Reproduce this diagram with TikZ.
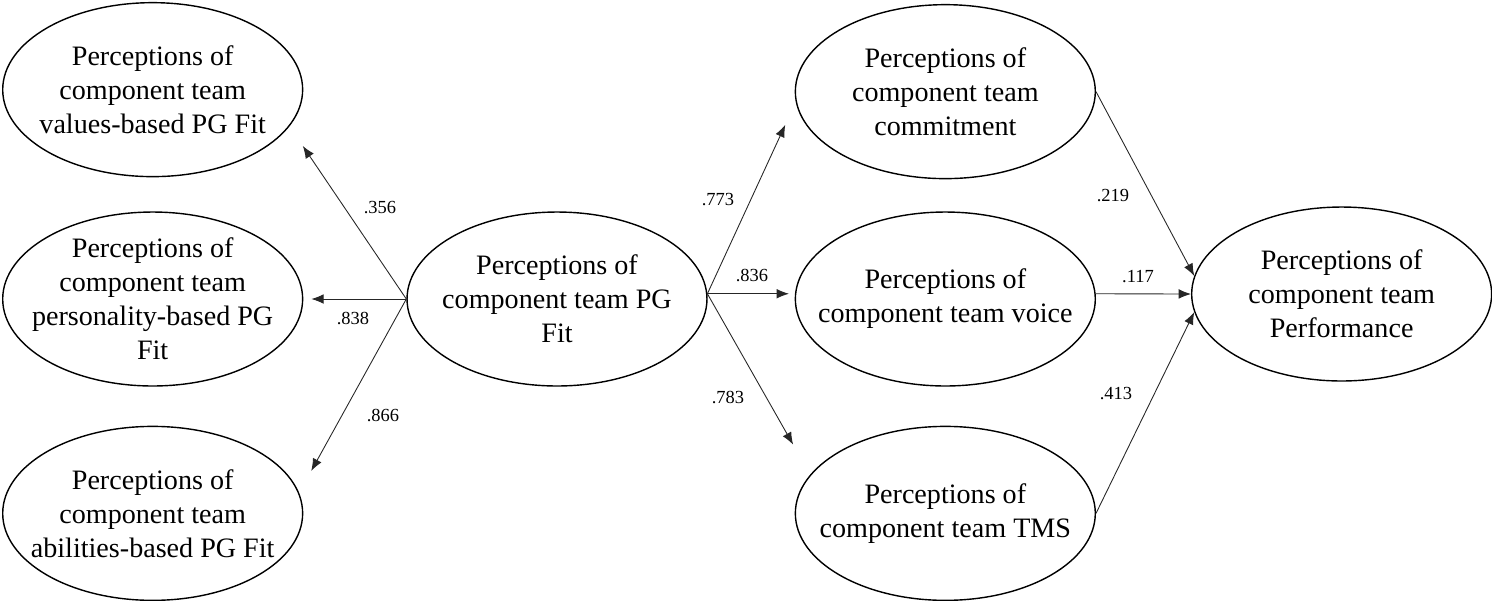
\documentclass[tikz,border=0pt]{standalone}
\usepackage{fontspec}
\setmainfont{Liberation Serif}
\usetikzlibrary{shapes.geometric, arrows.meta, positioning}

\begin{document}
\begin{tikzpicture}[
    x=0.02cm, y=-0.02cm,
    node distance=0.72cm,
    latent/.style={
        ellipse,
        draw,
        line width=0.8pt,
        minimum width=6cm,
        minimum height=3.48cm,
        inner sep=-15pt,
        align=center,
        font=\fontsize{16}{19.4}\selectfont
    },
    link/.style={-{Latex[length=7pt, width=5.5pt]}, line width=0.5pt, color=black!85},
    coef/.style={font=\fontsize{10.5}{12}\selectfont, inner sep=1pt}
]
\useasboundingbox (0,0) rectangle (1492,600);

% central construct
\node[latent] (pg) at (557,299) {Perceptions of\\component team PG\\Fit};

% left column
\node[latent, left=2.06cm of pg] (personality)
{Perceptions of\\component team\\personality-based PG\\Fit};
\node[latent, above=0.68cm of personality] (values)
{Perceptions of\\component team\\values-based PG Fit};
\node[latent, below=0.78cm of personality] (abilities)
{Perceptions of\\component team\\abilities-based PG Fit};

% right column
\node[latent, right=1.74cm of pg] (voice)
{Perceptions of\\component team voice};
\node[latent, above=0.64cm of voice] (commit)
{Perceptions of\\component team\\commitment};
\node[latent, below=0.78cm of voice] (tms)
{Perceptions of\\component team TMS};

% outcome
\node[latent, right=1.9cm of voice, yshift=0.1cm] (perf)
{Perceptions of\\component team\\Performance};

\draw[link, shorten >=0.475cm] (pg.west) -- (values.-15);
\draw[link, shorten >=0.16cm] (pg.west) -- (personality.east);
\draw[link, shorten >=0.5cm] (pg.west) -- (abilities.8);

\draw[link, shorten >=0.5cm] (pg.2) -- (commit.184);
\draw[link, shorten >=0.12cm] (pg.2) -- (voice.178);
\draw[link, shorten >=0.69cm] (pg.2) -- (tms.164);

\draw[link] (commit.east) -- (perf.173);
\draw[link] (voice.2) -- (perf.west);
\draw[link] (tms.east) -- (perf.187);

% path coefficients
\node[coef] (c356) at (380,208) {.356};
\node[coef] (c838) at (353,318) {.838};
\node[coef] (c866) at (383,415) {.866};
\node[coef] (c773) at (718,200) {.773};
\node[coef] (c836) at (752,275) {.836};
\node[coef] (c783) at (728,397) {.783};
\node[coef] (c219) at (1113,196) {.219};
\node[coef] (c117) at (1138,277) {.117};
\node[coef] (c413) at (1116,394) {.413};

\end{tikzpicture}
\end{document}
